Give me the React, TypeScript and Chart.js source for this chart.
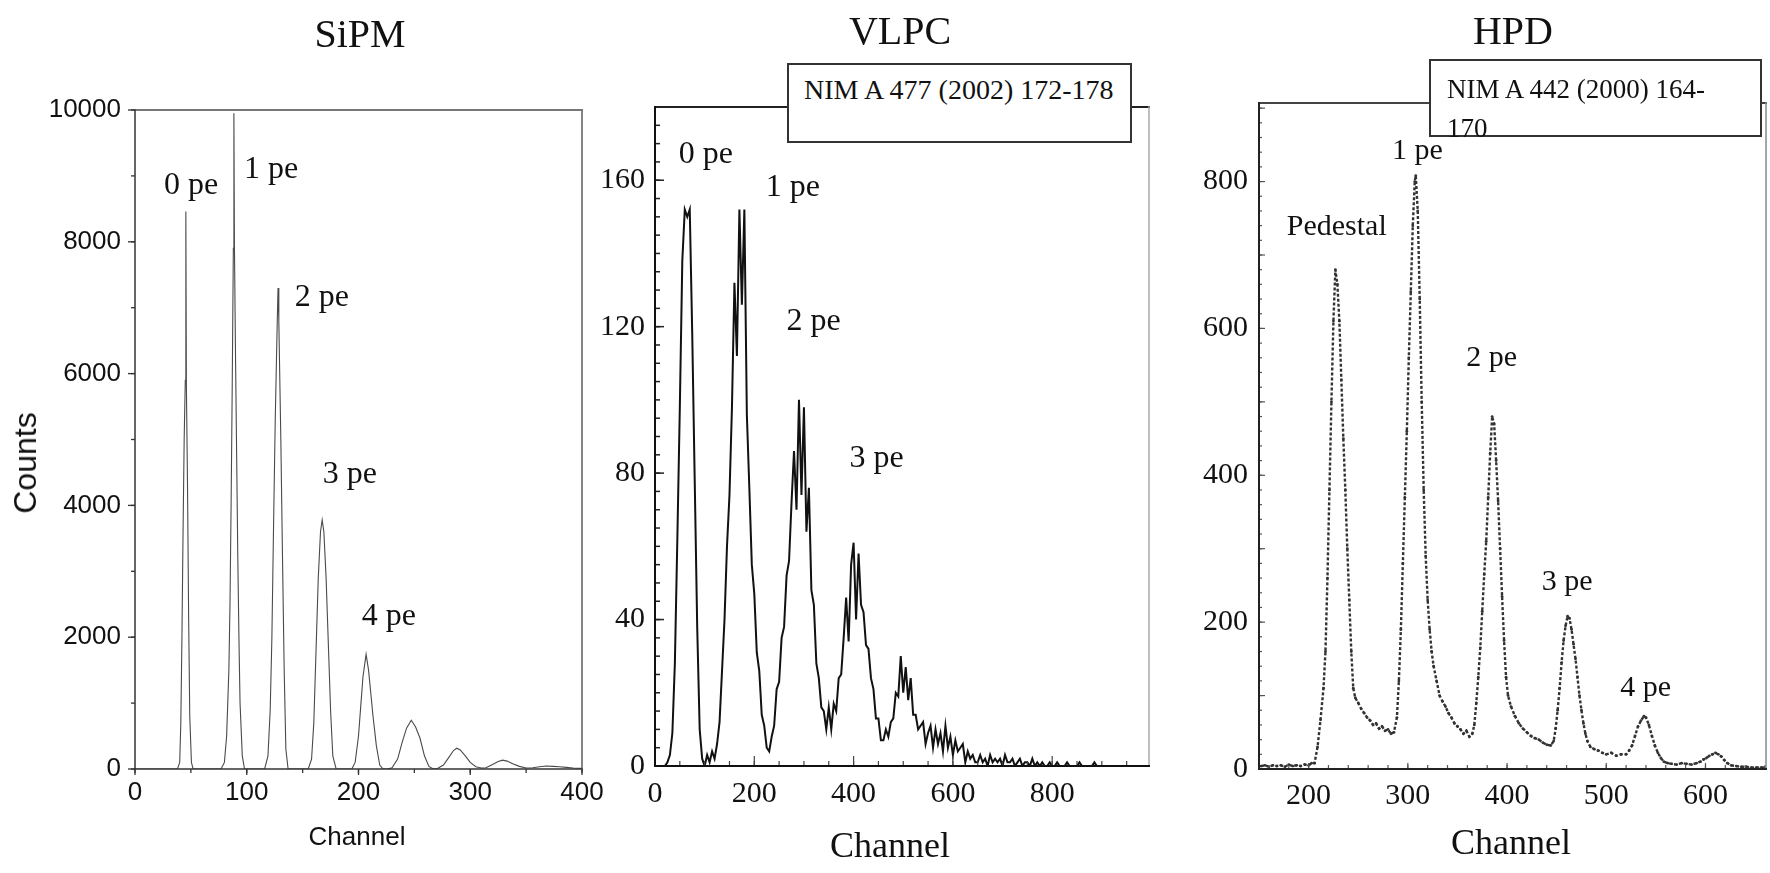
import React, { useEffect, useRef } from 'react';
import { Chart, registerables } from 'chart.js';

Chart.register(...registerables);

// ---------------- DATA ----------------
// SiPM spectrum (channel, counts)
const SIPM_CH = [0,
  38, 40, 41, 42, 43, 44, 45, 45.5, 46, 47, 48, 49, 50.5, 52,
  77, 80, 82, 84, 85, 86, 87, 88, 88.5, 89, 90, 91, 92, 93, 94, 96, 98,
  116, 119, 121, 122.5, 124, 125.5, 127.3, 128, 128.7, 130.5, 132, 133.5, 135, 137,
  155, 158, 160, 162, 164, 166, 167.5, 169, 171, 173, 175, 177, 180,
  194, 197, 200, 202, 204, 206.8, 209, 211, 213, 216, 219, 222,
  226, 230, 235, 239, 243, 247.2, 251, 255, 259, 263, 267,
  271, 276, 281, 285, 288, 291, 295, 300, 305, 310,
  314, 320, 325, 329, 333, 338, 344, 350,
  356, 362, 368, 374, 380, 386, 392, 400];
const SIPM_COUNTS = [0,
  0, 100, 700, 2000, 3600, 5000, 5900, 8460, 5800, 4300, 2300, 800, 100, 0,
  0, 100, 500, 1500, 2500, 4000, 5800, 7900, 9950, 7900, 6200, 4700, 3200, 2000, 1000, 200, 0,
  0, 200, 900, 2000, 3700, 5300, 6800, 7300, 6800, 5000, 3200, 1500, 300, 0,
  0, 150, 700, 1800, 2900, 3600, 3780, 3600, 2900, 1900, 900, 200, 0,
  0, 100, 500, 950, 1400, 1740, 1500, 1150, 800, 350, 60, 0,
  0, 20, 150, 400, 620, 740, 640, 470, 200, 40, 0,
  10, 60, 180, 280, 315, 290, 210, 100, 35, 15,
  20, 70, 115, 135, 120, 80, 40, 15,
  20, 35, 45, 40, 35, 25, 15, 10];
const SIPM_X_TICKS = [0, 100, 200, 300, 400];
const SIPM_Y_TICKS = [0, 2000, 4000, 6000, 8000, 10000];
const SIPM_PEAKS = [
  { text: '0 pe', x: 26, y: 8860 },
  { text: '1 pe', x: 97.5, y: 9100 },
  { text: '2 pe', x: 143, y: 7160 },
  { text: '3 pe', x: 168, y: 4460 },
  { text: '4 pe', x: 203, y: 2310 },
];

// VLPC histogram: counts in 5-channel bins starting at channel 0
const VLPC_BIN = 5;
const VLPC_COUNTS = [
  0, 0, 0, 0, 0, 1, 3, 9, 28, 62,
  98, 138, 152, 150, 152, 118, 78, 38, 10, 2,
  0, 3, 1, 4, 2, 6, 12, 26, 40, 60,
  74, 98, 132, 112, 152, 126, 152, 96, 76, 55,
  47, 31, 26, 14, 11, 5, 4, 8, 11, 21,
  23, 35, 38, 52, 56, 72, 86, 70, 100, 74,
  98, 64, 76, 48, 44, 28, 24, 16, 15, 10,
  16, 10, 17, 15, 24, 25, 35, 46, 34, 55,
  61, 40, 58, 44, 42, 33, 32, 24, 21, 13,
  13, 7, 7, 10, 8, 12, 13, 20, 19, 30,
  20, 27, 18, 24, 14, 14, 10, 11, 12, 6,
  9, 11, 5, 10, 6, 9, 4, 11, 5, 8,
  3, 7, 4, 5, 6, 1, 4, 2, 3, 1,
  1, 3, 1, 2, 0, 3, 1, 2, 1, 2,
  0, 3, 1, 1, 2, 0, 1, 2, 0, 1,
  1, 0, 2, 0, 1, 0, 1, 0, 0, 1,
  0, 0, 1, 0, 0, 0, 1, 0, 0, 0,
  0, 1, 0, 0, 0, 0, 0, 1, 0, 0,
  0, 0, 0, 0, 0, 0, 0, 0, 0, 0,
  0, 0, 0, 0, 0, 0, 0, 0, 0, 0];
const VLPC_X_TICKS = [0, 200, 400, 600, 800];
const VLPC_Y_TICKS = [0, 40, 80, 120, 160];
const VLPC_PEAKS = [
  { text: '0 pe', x: 48, y: 167 },
  { text: '1 pe', x: 223, y: 158 },
  { text: '2 pe', x: 265, y: 121.5 },
  { text: '3 pe', x: 392, y: 84 },
];

// HPD spectrum (channel, counts)
const HPD_CH = [152, 156, 160, 164, 168, 172, 176, 180, 184, 188, 192, 196, 200, 203,
  206, 209, 212, 215, 217, 219, 221, 223, 225, 227, 229, 231, 233, 235, 237, 239, 241, 243, 245, 247,
  250, 253, 256, 259, 262, 265, 268, 271, 274, 277, 280, 283, 286,
  289, 291, 293, 295, 297, 299, 301, 303, 305, 307, 308, 310, 312, 314, 316, 318, 320, 322, 324, 326,
  329, 332, 335, 338, 341, 344, 347, 350, 353, 356, 359, 362, 365,
  367, 369, 371, 373, 375, 377, 379, 381, 383, 385, 387, 389, 391, 393, 395, 397, 399, 401,
  404, 408, 412, 416, 420, 424, 428, 432, 436, 440, 444, 447,
  449, 451, 453, 455, 457, 459, 461, 463, 465, 467, 469, 471, 473, 475, 477, 479, 481, 484,
  488, 492, 496, 500, 505, 510, 515, 520,
  523, 526, 529, 532, 535, 538, 540, 543, 546, 549, 552, 555, 558, 562,
  566, 571, 576, 581, 586, 591, 595,
  598, 601, 604, 607, 610, 613, 616, 619, 622, 626,
  631, 636, 641, 646, 651, 656, 660];
const HPD_COUNTS = [4, 5, 3, 5, 4, 5, 3, 6, 4, 5, 4, 6, 5, 8,
  8, 30, 67, 110, 160, 260, 380, 500, 610, 680, 660, 610, 530, 450, 380, 300, 230, 160, 110, 97,
  90, 82, 76, 70, 66, 60, 62, 55, 58, 52, 54, 48, 50,
  70, 120, 190, 280, 370, 460, 560, 650, 740, 800, 808, 760, 640, 500, 380, 290, 230, 190, 160, 140,
  120, 100, 92, 85, 76, 70, 62, 58, 54, 48, 52, 44, 48,
  60, 90, 125, 165, 215, 265, 310, 370, 430, 480, 470, 420, 365, 300, 235, 175, 125, 100,
  85, 72, 62, 55, 50, 45, 42, 40, 36, 33, 32, 38,
  55, 80, 110, 145, 175, 195, 208, 205, 190, 170, 150, 125, 100, 80, 62, 48, 38, 30,
  27, 25, 22, 20, 22, 18, 20, 20,
  25, 32, 45, 58, 66, 72, 70, 60, 45, 32, 22, 15, 10, 8,
  7, 6, 8, 7, 6, 8, 10,
  13, 15, 18, 20, 22, 20, 17, 12, 8, 5,
  4, 3, 3, 2, 2, 2, 2];
const HPD_X_TICKS = [200, 300, 400, 500, 600];
const HPD_Y_TICKS = [0, 200, 400, 600, 800];
const HPD_PEAKS = [
  { text: 'Pedestal', x: 178, y: 738 },
  { text: '1 pe', x: 284, y: 841 },
  { text: '2 pe', x: 359, y: 559 },
  { text: '3 pe', x: 435, y: 255 },
  { text: '4 pe', x: 514, y: 110 },
];

// ---------------- STYLE ----------------
const SERIF = '"Liberation Serif", "Times New Roman", Times, serif';
const SANS = '"Liberation Sans", Arial, Helvetica, sans-serif';

// Frame + inner/outer tick marks drawn from the chart's own scales
const axisDecor = {
  id: 'axisDecor',
  afterDatasetsDraw(chart: any, _args: any, opts: any) {
    const { ctx, chartArea: a } = chart;
    const xs = chart.scales.x;
    const ys = chart.scales.y;
    ctx.save();
    ctx.lineCap = 'butt';
    const drawTicks = (scale: any, cfg: any, horizontal: boolean) => {
      if (!cfg) return;
      ctx.strokeStyle = cfg.color;
      ctx.lineWidth = cfg.width;
      const levels = [
        { step: cfg.minor, len: cfg.minorLen },
        { step: cfg.major, len: cfg.majorLen },
      ];
      for (const lv of levels) {
        if (!lv.step) continue;
        const k0 = Math.ceil(scale.min / lv.step - 1e-9);
        const k1 = Math.floor(scale.max / lv.step + 1e-9);
        for (let k = k0; k <= k1; k++) {
          const p = scale.getPixelForValue(k * lv.step);
          ctx.beginPath();
          if (horizontal) {
            ctx.moveTo(p, a.bottom);
            ctx.lineTo(p, a.bottom + cfg.dir * lv.len);
          } else {
            ctx.moveTo(a.left, p);
            ctx.lineTo(a.left - cfg.dir * lv.len, p);
          }
          ctx.stroke();
        }
      }
    };
    drawTicks(xs, opts.xTicks, true);
    drawTicks(ys, opts.yTicks, false);
    ctx.lineCap = 'square';
    for (const s of opts.frame || []) {
      ctx.strokeStyle = s.color;
      ctx.lineWidth = s.width;
      ctx.beginPath();
      if (s.side === 'left') { ctx.moveTo(a.left, a.top); ctx.lineTo(a.left, a.bottom); }
      if (s.side === 'right') { ctx.moveTo(a.right, a.top); ctx.lineTo(a.right, a.bottom); }
      if (s.side === 'top') { ctx.moveTo(a.left, a.top); ctx.lineTo(a.right, a.top); }
      if (s.side === 'bottom') { ctx.moveTo(a.left, a.bottom); ctx.lineTo(a.right, a.bottom); }
      ctx.stroke();
    }
    ctx.restore();
  },
};

// Peak annotations anchored in data coordinates
const peakLabels = {
  id: 'peakLabels',
  afterDatasetsDraw(chart: any, _args: any, opts: any) {
    const { ctx } = chart;
    const xs = chart.scales.x;
    const ys = chart.scales.y;
    ctx.save();
    ctx.font = opts.font;
    ctx.fillStyle = opts.color;
    ctx.textAlign = 'left';
    ctx.textBaseline = 'middle';
    for (const it of opts.items || []) {
      ctx.fillText(it.text, xs.getPixelForValue(it.x), ys.getPixelForValue(it.y));
    }
    ctx.restore();
  },
};

function makeConfig(p: any) {
  return {
    type: 'scatter',
    data: {
      datasets: [{
        data: p.points,
        showLine: true,
        borderColor: p.lineColor,
        borderWidth: p.lineWidth,
        borderDash: p.dash || [],
        pointRadius: p.pointRadius || 0,
        pointBackgroundColor: p.lineColor,
        pointBorderWidth: 0,
        tension: 0,
      }],
    },
    options: {
      animation: false,
      responsive: false,
      events: [],
      layout: { padding: { top: p.padTop, right: p.padRight, left: 0, bottom: 0 } },
      plugins: {
        legend: { display: false },
        tooltip: { enabled: false },
        axisDecor: p.decor,
        peakLabels: { items: p.peaks, font: p.peakFont, color: '#111' },
      },
      scales: {
        x: {
          type: 'linear',
          min: p.xMin,
          max: p.xMax,
          grid: { display: false, drawTicks: false },
          border: { display: false },
          ticks: {
            color: '#111',
            font: { family: p.tickFamily, size: p.tickSize },
            padding: p.xPad,
            maxRotation: 0,
            callback: (v: any) => String(v),
          },
          afterBuildTicks: (s: any) => { s.ticks = p.xTicks.map((v: number) => ({ value: v })); },
          afterFit: (s: any) => { s.height = p.xHeight; },
        },
        y: {
          type: 'linear',
          min: 0,
          max: p.yMax,
          grid: { display: false, drawTicks: false },
          border: { display: false },
          ticks: {
            color: '#111',
            font: { family: p.tickFamily, size: p.tickSize },
            padding: p.yPad,
            callback: (v: any) => String(v),
          },
          afterBuildTicks: (s: any) => { s.ticks = p.yTicks.map((v: number) => ({ value: v })); },
          afterFit: (s: any) => { s.width = p.yWidth; },
        },
      },
    },
    plugins: [axisDecor, peakLabels],
  };
}

function Panel({ left, width, config }: any) {
  const ref = useRef<HTMLCanvasElement | null>(null);
  useEffect(() => {
    const chart = new Chart(ref.current as HTMLCanvasElement, config);
    return () => chart.destroy();
  }, []);
  return (
    <canvas
      ref={ref}
      width={width}
      height={873}
      style={{ position: 'absolute', left, top: 0, width, height: 873 }}
    />
  );
}

function Txt({ x, y, font, children, rotate }: any) {
  return (
    <div
      style={{
        position: 'absolute', left: x, top: y, font, lineHeight: 1, color: '#111',
        whiteSpace: 'nowrap',
        transform: `translate(-50%, -50%)${rotate ? ' rotate(-90deg)' : ''}`,
      }}
    >
      {children}
    </div>
  );
}

const sipmConfig = makeConfig({
  points: SIPM_CH.map((c, i) => ({ x: c, y: SIPM_COUNTS[i] })),
  lineColor: '#4a4a4a', lineWidth: 1.1,
  padTop: 110, padRight: 38, xHeight: 104, yWidth: 135,
  xMin: 0, xMax: 400, yMax: 10000, xTicks: SIPM_X_TICKS, yTicks: SIPM_Y_TICKS,
  tickFamily: SANS, tickSize: 26, xPad: 8, yPad: 14,
  peaks: SIPM_PEAKS, peakFont: `32px ${SERIF}`,
  decor: {
    frame: [
      { side: 'top', color: '#777', width: 1.8 },
      { side: 'right', color: '#777', width: 1.8 },
      { side: 'left', color: '#333', width: 1.5 },
      { side: 'bottom', color: '#333', width: 1.5 },
    ],
    xTicks: { major: 100, minor: 50, majorLen: 6, minorLen: 4, dir: 1, color: '#333', width: 1.3 },
    yTicks: { major: 2000, minor: 1000, majorLen: 7, minorLen: 4, dir: 1, color: '#333', width: 1.3 },
  },
});

const vlpcConfig = makeConfig({
  points: VLPC_COUNTS.map((v, i) => ({ x: i * VLPC_BIN, y: v })),
  lineColor: '#111', lineWidth: 2,
  padTop: 107, padRight: 31, xHeight: 107, yWidth: 95,
  xMin: 0, xMax: 995, yMax: 180, xTicks: VLPC_X_TICKS, yTicks: VLPC_Y_TICKS,
  tickFamily: SERIF, tickSize: 30, xPad: 10, yPad: 10,
  peaks: VLPC_PEAKS, peakFont: `32px ${SERIF}`,
  decor: {
    frame: [
      { side: 'top', color: '#222', width: 2 },
      { side: 'right', color: '#aaa', width: 1.5 },
      { side: 'left', color: '#111', width: 2 },
      { side: 'bottom', color: '#111', width: 2 },
    ],
    xTicks: { major: 200, minor: 50, majorLen: 10, minorLen: 5, dir: -1, color: '#444', width: 1.2 },
    yTicks: { major: 40, minor: 5, majorLen: 9, minorLen: 5, dir: -1, color: '#222', width: 1.5 },
  },
});

const hpdConfig = makeConfig({
  points: HPD_CH.map((c, i) => ({ x: c, y: HPD_COUNTS[i] })),
  lineColor: '#333', lineWidth: 2.4, dash: [3, 2], pointRadius: 1.4,
  padTop: 103, padRight: 2, xHeight: 104, yWidth: 109,
  xMin: 150, xMax: 661, yMax: 907, xTicks: HPD_X_TICKS, yTicks: HPD_Y_TICKS,
  tickFamily: SERIF, tickSize: 30, xPad: 9, yPad: 11,
  peaks: HPD_PEAKS, peakFont: `30px ${SERIF}`,
  decor: {
    frame: [
      { side: 'top', color: '#444', width: 2 },
      { side: 'right', color: '#888', width: 1.5 },
      { side: 'left', color: '#222', width: 2 },
      { side: 'bottom', color: '#222', width: 2 },
    ],
    xTicks: { major: 100, minor: 20, majorLen: 6, minorLen: 4, dir: -1, color: '#555', width: 1.2 },
    yTicks: { major: 100, minor: 20, majorLen: 6, minorLen: 3, dir: -1, color: '#555', width: 1.2 },
  },
});

export default function App() {
  return (
    <div style={{ position: 'fixed', left: 0, top: 0, width: 1770, height: 873, background: '#fff', overflow: 'hidden' }}>
      <Panel left={0} width={620} config={sipmConfig} />
      <Panel left={560} width={620} config={vlpcConfig} />
      <Panel left={1150} width={620} config={hpdConfig} />

      <Txt x={360} y={34} font={`40px ${SERIF}`}>SiPM</Txt>
      <Txt x={900} y={31} font={`40px ${SERIF}`}>VLPC</Txt>
      <Txt x={1513} y={31} font={`40px ${SERIF}`}>HPD</Txt>

      <Txt x={25} y={463} font={`32px ${SANS}`} rotate>Counts</Txt>
      <Txt x={357} y={836} font={`26px ${SANS}`}>Channel</Txt>
      <Txt x={890} y={845} font={`36px ${SERIF}`}>Channel</Txt>
      <Txt x={1511} y={842} font={`36px ${SERIF}`}>Channel</Txt>

      <div style={{
        position: 'absolute', left: 787, top: 63, width: 345, height: 80, boxSizing: 'border-box',
        border: '2px solid #333', background: '#fff', font: `28px ${SERIF}`, lineHeight: '34px',
        color: '#111', paddingLeft: 15, paddingTop: 8, whiteSpace: 'nowrap',
      }}>NIM A 477 (2002) 172-178</div>

      <div style={{
        position: 'absolute', left: 1429, top: 59, width: 333, height: 78, boxSizing: 'border-box',
        border: '2px solid #333', background: '#fff', font: `27px ${SERIF}`, lineHeight: '39px',
        color: '#111', paddingLeft: 16, paddingTop: 9, whiteSpace: 'nowrap', overflow: 'visible',
      }}>NIM A 442 (2000) 164-<br />170</div>
    </div>
  );
}
